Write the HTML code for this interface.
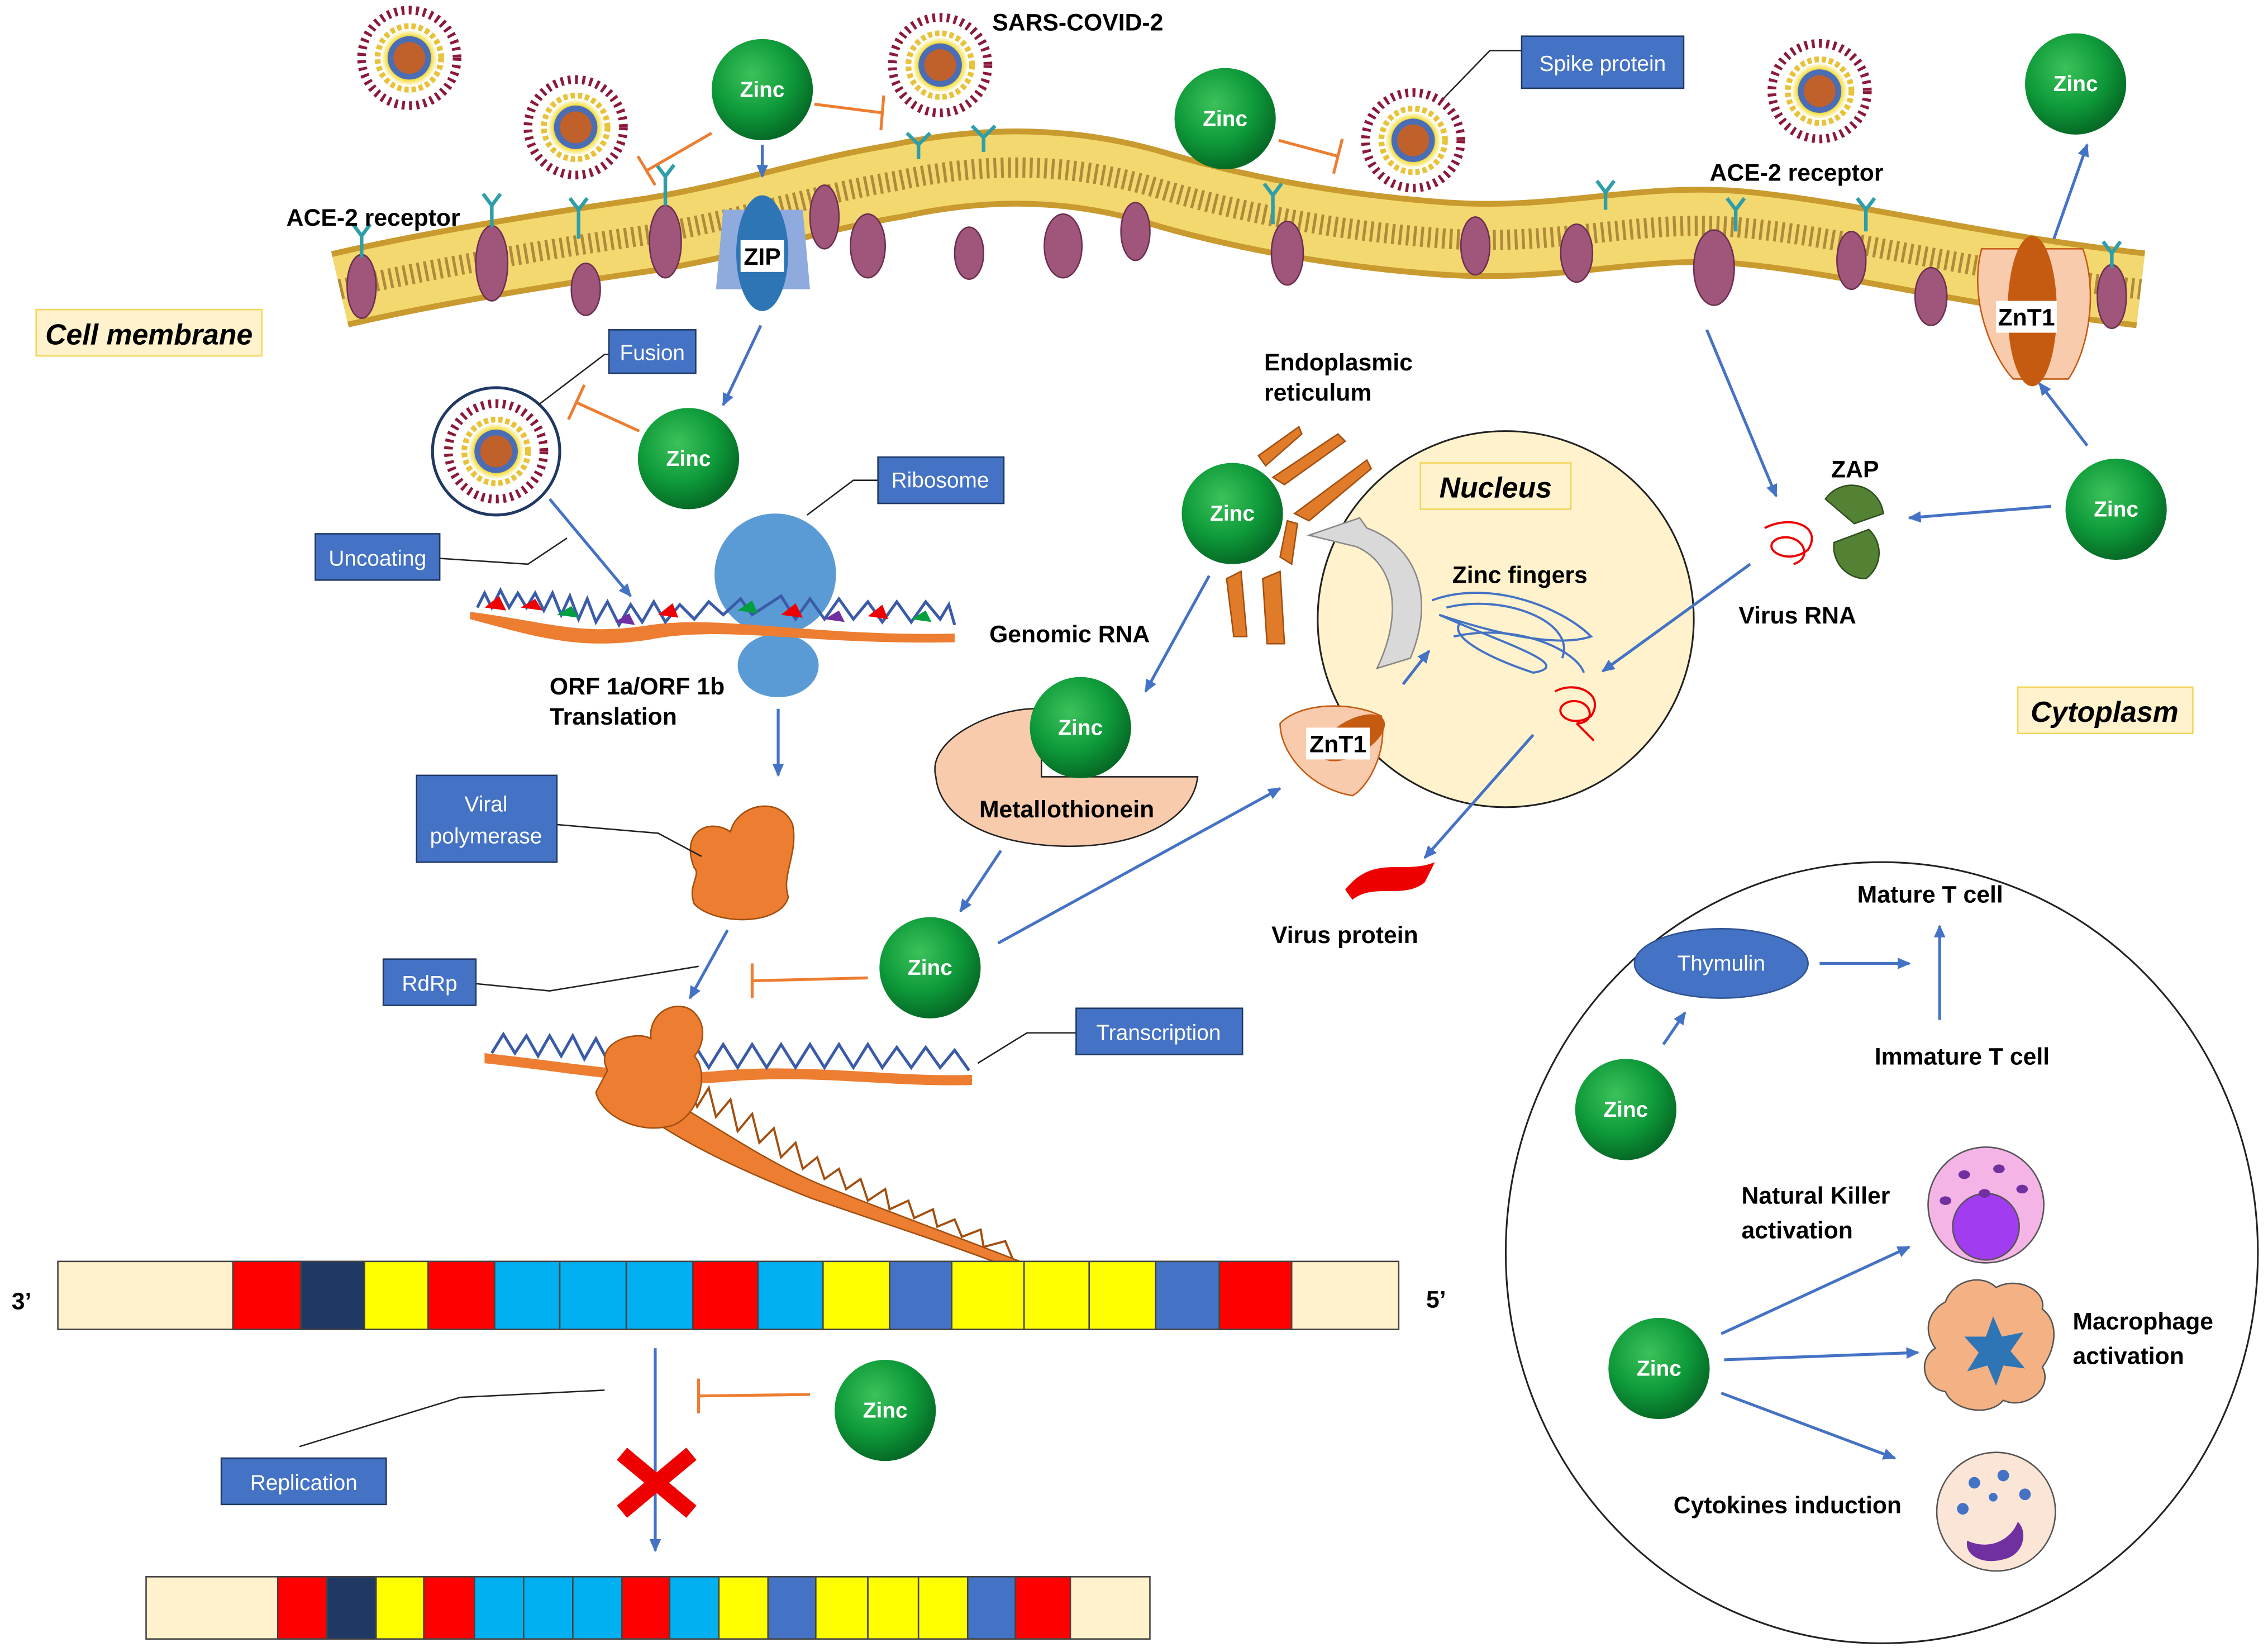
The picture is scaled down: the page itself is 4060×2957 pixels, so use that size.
<!DOCTYPE html>
<html><head><meta charset="utf-8">
<style>
html,body{margin:0;padding:0;background:#fff;}
svg{display:block;}
text{font-family:"Liberation Sans",sans-serif;font-weight:bold;}
.lb{fill:#000;font-size:16.5px;}
.zt{fill:#fff;font-size:15px;text-anchor:middle;}
.bt{fill:#fff;font-size:15px;text-anchor:middle;font-weight:normal;}
.yt{fill:#000;font-size:20px;text-anchor:middle;font-style:italic;}
.ar{stroke:#4472c4;stroke-width:2;fill:none;marker-end:url(#ah);}
.inh{stroke:#ed7d31;stroke-width:2;fill:none;}
.thin{stroke:#222;stroke-width:1;fill:none;}
</style></head><body>
<svg width="4060" height="2957" viewBox="0 0 1568 1142" xmlns="http://www.w3.org/2000/svg">
<defs>
<marker id="ah" markerWidth="10" markerHeight="10" refX="8" refY="5" orient="auto" markerUnits="userSpaceOnUse"><path d="M0,1 L9,5 L0,9 z" fill="#4472c4"/></marker>
<radialGradient id="zg" cx="40%" cy="35%" r="65%"><stop offset="0" stop-color="#3cc25a"/><stop offset="0.6" stop-color="#0e9a3a"/><stop offset="1" stop-color="#066b26"/></radialGradient>
<radialGradient id="vg" cx="50%" cy="50%" r="50%"><stop offset="0" stop-color="#b5552b"/><stop offset="0.45" stop-color="#4d6fb8"/><stop offset="0.6" stop-color="#f6e04a"/><stop offset="0.75" stop-color="#fff"/><stop offset="1" stop-color="#fff"/></radialGradient>
<g id="vir"><circle r="33" fill="#fff"/><circle r="33" fill="none" stroke="#8b1a3a" stroke-width="6" stroke-dasharray="2 3"/><circle r="26" fill="url(#vg)"/><circle r="22" fill="none" stroke="#e8c23a" stroke-width="4" stroke-dasharray="3 2"/><circle r="15" fill="#4a6db5"/><circle r="11" fill="#c0602a"/></g>
<g id="zn"><circle r="35" fill="url(#zg)"/><text class="zt" y="5">Zinc</text></g>
</defs>

<!-- membrane -->
<path d="M235,200 C300,185 380,172 450,162 C520,150 560,135 620,125 C680,112 740,112 800,130 C860,148 930,160 1000,165 C1080,170 1130,152 1200,157 C1280,164 1350,185 1480,200" stroke="#c99a2e" stroke-width="54" fill="none" stroke-linecap="butt"/>
<path d="M235,200 C300,185 380,172 450,162 C520,150 560,135 620,125 C680,112 740,112 800,130 C860,148 930,160 1000,165 C1080,170 1130,152 1200,157 C1280,164 1350,185 1480,200" stroke="#f3d870" stroke-width="46" fill="none" stroke-linecap="butt"/>
<path d="M235,200 C300,185 380,172 450,162 C520,150 560,135 620,125 C680,112 740,112 800,130 C860,148 930,160 1000,165 C1080,170 1130,152 1200,157 C1280,164 1350,185 1480,200" stroke="#b08a3a" stroke-width="14" fill="none" stroke-dasharray="2 3"/>
<g fill="#a0557a" stroke="#6b2f50" stroke-width="1">
<ellipse cx="250" cy="198" rx="10" ry="22"/><ellipse cx="340" cy="182" rx="11" ry="26"/><ellipse cx="460" cy="167" rx="11" ry="25"/><ellipse cx="570" cy="150" rx="10" ry="22"/><ellipse cx="600" cy="170" rx="12" ry="22"/><ellipse cx="735" cy="170" rx="13" ry="22"/><ellipse cx="785" cy="160" rx="10" ry="20"/><ellipse cx="890" cy="175" rx="11" ry="22"/><ellipse cx="1020" cy="170" rx="10" ry="20"/><ellipse cx="1090" cy="175" rx="11" ry="20"/><ellipse cx="1185" cy="185" rx="14" ry="26"/><ellipse cx="1280" cy="180" rx="10" ry="20"/><ellipse cx="1335" cy="205" rx="11" ry="20"/><ellipse cx="1460" cy="205" rx="10" ry="22"/><ellipse cx="405" cy="200" rx="10" ry="18"/><ellipse cx="670" cy="175" rx="10" ry="18"/>
</g>
<g stroke="#2f9ea8" stroke-width="2.5" fill="none">
<path d="M250,178 v-15 l-6,-8 M250,163 l6,-8"/><path d="M340,157 v-15 l-6,-8 M340,142 l6,-8"/><path d="M460,142 v-20 l-6,-8 M460,122 l6,-8"/><path d="M400,165 v-20 l-6,-8 M400,145 l6,-8"/><path d="M635,110 v-10 l-8,-8 M635,100 l8,-8"/><path d="M680,105 v-10 l-8,-8 M680,95 l8,-8"/><path d="M880,155 v-20 l-6,-8 M880,135 l6,-8"/><path d="M1110,145 v-12 l-6,-8 M1110,133 l6,-8"/><path d="M1200,160 v-15 l-6,-8 M1200,145 l6,-8"/><path d="M1290,160 v-15 l-6,-8 M1290,145 l6,-8"/><path d="M1460,185 v-10 l-6,-8 M1460,175 l6,-8"/>
</g>
<!-- ZIP -->
<path d="M500,145 L555,145 L560,200 L495,200 Z" fill="#8faadc"/>
<ellipse cx="527" cy="175" rx="18" ry="40" fill="#2e75b6"/>
<rect x="512" y="166" width="30" height="22" fill="#fff"/><text class="lb" x="527" y="183" text-anchor="middle" font-size="14">ZIP</text>
<!-- ZnT1 right -->
<path d="M1370,172 C1360,210 1380,250 1392,262 L1430,262 C1445,240 1450,200 1440,172 Z" fill="#f8cbad" stroke="#c55a11" stroke-width="1"/>
<ellipse cx="1405" cy="215" rx="17" ry="52" fill="#c55a11"/>
<rect x="1380" y="208" width="42" height="22" fill="#fff"/><text class="lb" x="1401" y="225" text-anchor="middle" font-size="14">ZnT1</text>

<!-- nucleus (under arrows) -->
<circle cx="1041" cy="428" r="130" fill="#fff2cc" stroke="#222" stroke-width="1.2"/>
<path d="M975,455 C990,420 985,380 945,365 L940,358 L905,370 L938,378 C965,390 970,425 952,462 Z" fill="#d9d9d9" stroke="#888"/>
<path d="M990,415 C1030,400 1080,420 1100,440 C1070,450 1010,430 995,425 C1040,445 1090,460 1060,465 C1030,455 1000,440 1010,430" stroke="#4472c4" stroke-width="1.5" fill="none"/>
<path d="M1000,420 C1040,410 1090,430 1080,455 M1005,440 C1050,430 1090,450 1095,465" stroke="#4472c4" stroke-width="1.5" fill="none"/>
<path d="M1075,478 C1090,470 1110,480 1100,495 C1085,505 1070,490 1085,485 C1100,482 1105,500 1090,500 M1090,500 L1102,512" stroke="#e00" stroke-width="1.5" fill="none"/>

<!-- viruses -->
<use href="#vir" x="283" y="40"/><use href="#vir" x="398" y="88"/><use href="#vir" x="650" y="45"/><use href="#vir" x="977" y="97"/><use href="#vir" x="1258" y="63"/>
<circle cx="343" cy="312" r="44" fill="#fff" stroke="#1f3864" stroke-width="2"/><use href="#vir" x="343" y="312"/>

<!-- zinc -->
<use href="#zn" x="527" y="62"/><use href="#zn" x="847" y="82"/><use href="#zn" x="1435" y="58"/><use href="#zn" x="476" y="317"/><use href="#zn" x="852" y="355"/><use href="#zn" x="1463" y="352"/><use href="#zn" x="643" y="669"/><use href="#zn" x="1124" y="767"/><use href="#zn" x="1147" y="946"/><use href="#zn" x="612" y="975"/>

<!-- inhibitions -->
<path class="inh" d="M492,92 L447,118 M441,108 L453,128"/>
<path class="inh" d="M563,72 L610,78 M611,66 L609,90"/>
<path class="inh" d="M884,97 L925,108 M928,96 L922,120"/>
<path class="inh" d="M442,298 L398,278 M404,266 L393,290"/>
<path class="inh" d="M600,676 L520,678 M520,666 L520,690"/>
<path class="inh" d="M560,964 L483,965 M483,953 L483,977"/>

<!-- blue arrows -->
<path class="ar" d="M527,100 L527,122"/>
<path class="ar" d="M526,225 L500,280"/>
<path class="ar" d="M1420,165 L1443,100"/>
<path class="ar" d="M1443,308 L1410,265"/>
<path class="ar" d="M1418,350 L1320,358"/>
<path class="ar" d="M1180,228 L1228,343"/>
<path class="ar" d="M1210,390 L1108,464"/>
<path class="ar" d="M380,345 L436,412"/>
<path class="ar" d="M538,490 L538,536"/>
<path class="ar" d="M503,643 L477,690"/>
<path class="ar" d="M836,398 L792,478"/>
<path class="ar" d="M692,588 L664,630"/>
<path class="ar" d="M690,652 L885,545"/>
<path class="ar" d="M1060,508 L985,593"/>
<path class="ar" d="M970,473 L988,450"/>
<path class="ar" d="M453,932 L453,1072"/>
<path class="ar" d="M1150,722 L1165,700"/>
<path class="ar" d="M1258,666 L1320,666"/>
<path class="ar" d="M1341,705 L1341,640"/>
<path class="ar" d="M1190,922 L1320,862"/>
<path class="ar" d="M1192,940 L1326,935"/>
<path class="ar" d="M1190,963 L1310,1008"/>

<!-- ER -->
<g fill="#e07b2a" stroke="#a24f10" stroke-width="1">
<path d="M870,315 L898,295 L900,300 L875,322Z"/><path d="M880,330 L925,300 L930,305 L888,335Z"/><path d="M895,355 L945,318 L948,324 L905,360Z"/><path d="M848,400 L858,395 L862,440 L853,440Z"/><path d="M873,400 L885,395 L888,445 L876,445Z"/><path d="M885,385 L890,360 L897,362 L893,390Z"/>
</g>
<path d="M1220,365 C1240,355 1260,365 1250,380 C1235,392 1215,378 1230,372 C1245,368 1255,385 1240,390" stroke="#e00" stroke-width="1.5" fill="none"/>
<!-- ZAP -->
<path d="M1262,345 A22,22 0 0 1 1302,355 L1282,362 Z" fill="#548235" stroke="#2f4f1e"/>
<path d="M1268,375 L1292,366 A22,22 0 0 1 1290,400 A22,22 0 0 1 1268,375Z" fill="#548235" stroke="#2f4f1e"/>
<!-- ZnT1 nucleus -->
<path d="M885,500 C900,485 935,485 955,495 C960,520 945,545 935,550 C905,545 885,520 885,500Z" fill="#f8cbad" stroke="#c55a11"/>
<ellipse cx="935" cy="510" rx="25" ry="12" fill="#c55a11" transform="rotate(-30 935 510)"/>
<rect x="903" y="503" width="44" height="22" fill="#fff"/><text class="lb" x="925" y="520" text-anchor="middle" font-size="14">ZnT1</text>
<!-- virus protein -->
<path d="M930,615 C950,590 970,605 992,596 L985,610 C970,622 950,610 935,622Z" fill="#e00"/>
<!-- metallothionein -->
<path d="M647,537 C640,510 690,488 720,490 L720,537 L828,537 C825,565 790,585 740,585 C690,585 650,568 647,537Z" fill="#f8cbad" stroke="#222"/>
<use href="#zn" x="747" y="503"/>

<!-- ribosome -->
<circle cx="536" cy="397" r="42" fill="#5b9bd5"/>
<ellipse cx="538" cy="460" rx="28" ry="22" fill="#5b9bd5"/>
<!-- RNA strand 1 -->
<path d="M325,423 C380,430 400,440 450,432 C500,425 560,440 660,438 L660,444 C560,446 500,432 450,442 C400,450 370,440 325,428Z" fill="#ed7d31"/>
<polyline points="330,420 335,410 340,420 346,408 352,420 358,410 364,420 370,410 376,422 382,410 388,425 394,412 400,428 406,414 412,430 420,416 428,432 436,418 444,430 452,416 460,430 470,418 480,428 490,416 500,425 512,414 520,425 540,412 550,428 560,414 570,428 580,414 590,428 600,416 610,430 620,416 630,430 640,416 650,428 656,418 660,432" stroke="#3a5ba8" stroke-width="2" fill="none"/>
<path d="M335,420 l10,-8 l5,10 Z M360,420 l10,-6 l5,8 Z M455,425 l10,-8 l4,10Z M540,425 l10,-8 l5,10Z M600,426 l10,-8 l4,10Z" fill="#e00"/>
<path d="M385,425 l10,-6 l5,8Z M510,422 l10,-7 l4,9Z M630,428 l10,-6 l4,8Z" fill="#00a040"/>
<path d="M425,430 l10,-6 l4,8Z M570,428 l10,-6 l4,8Z" fill="#7030a0"/>
<!-- polymerase -->
<path d="M480,600 C470,575 490,565 505,575 C510,555 540,550 548,570 C552,590 540,605 545,620 C540,640 495,640 480,625 C475,612 485,605 480,600Z" fill="#ed7d31" stroke="#a24f10"/>
<!-- RNA strand 2 -->
<path d="M335,728 C400,735 450,745 500,740 C560,735 620,745 672,743 L672,750 C620,752 560,742 500,748 C450,752 400,742 335,735Z" fill="#ed7d31"/>
<polyline points="340,728 348,715 356,728 364,716 372,730 380,716 388,730 396,716 404,732 412,718 420,733 430,720 440,735 470,735 480,722 490,738 500,722 510,738 520,722 530,738 540,722 550,738 560,722 570,738 580,722 590,738 600,722 610,738 620,724 630,738 640,724 650,738 660,726 670,740" stroke="#3a5ba8" stroke-width="2" fill="none"/>
<path d="M425,740 C470,760 520,800 570,820 C620,840 670,858 705,872 L695,875 C650,858 600,842 560,828 C510,808 470,790 430,760Z" fill="#ed7d31" stroke="#a24f10"/>
<polyline points="470,760 475,745 482,765 490,752 495,772 505,760 510,782 520,770 525,790 535,780 540,800 550,790 555,808 565,800 570,815 580,808 585,822 595,815 600,830 612,822 615,836 628,830 632,842 645,836 648,848 660,843 665,855 678,850 680,862 695,858 700,870" stroke="#a24f10" stroke-width="1.5" fill="none"/>
<path d="M420,740 C410,720 440,712 450,718 C448,698 470,690 480,700 C490,710 485,725 480,730 C490,740 485,770 465,778 C440,785 415,770 412,755Z" fill="#ed7d31" stroke="#a24f10"/>

<!-- bars -->
<g stroke="#444" stroke-width="1">
<rect x="40" y="872" width="927" height="47" fill="#fff2cc"/>
<rect x="161" y="872" width="47" height="47" fill="#f00"/><rect x="208" y="872" width="44" height="47" fill="#1f3864"/><rect x="252" y="872" width="44" height="47" fill="#ff0"/><rect x="296" y="872" width="46" height="47" fill="#f00"/><rect x="342" y="872" width="45" height="47" fill="#00b0f0"/><rect x="387" y="872" width="46" height="47" fill="#00b0f0"/><rect x="433" y="872" width="46" height="47" fill="#00b0f0"/><rect x="479" y="872" width="45" height="47" fill="#f00"/><rect x="524" y="872" width="45" height="47" fill="#00b0f0"/><rect x="569" y="872" width="46" height="47" fill="#ff0"/><rect x="615" y="872" width="43" height="47" fill="#4472c4"/><rect x="658" y="872" width="50" height="47" fill="#ff0"/><rect x="708" y="872" width="45" height="47" fill="#ff0"/><rect x="753" y="872" width="46" height="47" fill="#ff0"/><rect x="799" y="872" width="44" height="47" fill="#4472c4"/><rect x="843" y="872" width="50" height="47" fill="#f00"/>
<rect x="101" y="1090" width="694" height="43" fill="#fff2cc"/>
<rect x="192" y="1090" width="34" height="43" fill="#f00"/><rect x="226" y="1090" width="34" height="43" fill="#1f3864"/><rect x="260" y="1090" width="33" height="43" fill="#ff0"/><rect x="293" y="1090" width="35" height="43" fill="#f00"/><rect x="328" y="1090" width="34" height="43" fill="#00b0f0"/><rect x="362" y="1090" width="34" height="43" fill="#00b0f0"/><rect x="396" y="1090" width="34" height="43" fill="#00b0f0"/><rect x="430" y="1090" width="33" height="43" fill="#f00"/><rect x="463" y="1090" width="34" height="43" fill="#00b0f0"/><rect x="497" y="1090" width="34" height="43" fill="#ff0"/><rect x="531" y="1090" width="33" height="43" fill="#4472c4"/><rect x="564" y="1090" width="36" height="43" fill="#ff0"/><rect x="600" y="1090" width="35" height="43" fill="#ff0"/><rect x="635" y="1090" width="34" height="43" fill="#ff0"/><rect x="669" y="1090" width="33" height="43" fill="#4472c4"/><rect x="702" y="1090" width="38" height="43" fill="#f00"/>
</g>
<!-- red X -->
<path d="M430,1005 L478,1045 M478,1005 L430,1045" stroke="#e00" stroke-width="11"/>

<!-- leader lines -->
<path class="thin" d="M998,68 L1030,35 L1052,35"/>
<path class="thin" d="M372,280 L418,245 L421,245"/>
<path class="thin" d="M558,356 L590,332 L607,332"/>
<path class="thin" d="M304,386 L365,390 L392,372"/>
<path class="thin" d="M385,570 L455,576 L485,592"/>
<path class="thin" d="M329,680 L380,685 L483,668"/>
<path class="thin" d="M676,735 L710,714 L744,714"/>
<path class="thin" d="M207,1000 L318,966 L418,961"/>

<!-- big circle -->
<ellipse cx="1301" cy="866" rx="260" ry="270" fill="none" stroke="#222" stroke-width="1.2"/>
<ellipse cx="1190" cy="666" rx="60" ry="24" fill="#4472c4" stroke="#2f528f"/>
<text class="bt" x="1190" y="671">Thymulin</text>
<circle cx="1373" cy="833" r="40" fill="#f4b4e6" stroke="#555"/><circle cx="1373" cy="848" r="23" fill="#a23cf0" stroke="#555"/>
<g fill="#7030a0"><ellipse cx="1358" cy="812" rx="4" ry="3"/><ellipse cx="1382" cy="808" rx="4" ry="3"/><ellipse cx="1398" cy="822" rx="4" ry="3"/><ellipse cx="1345" cy="830" rx="4" ry="3"/><ellipse cx="1372" cy="825" rx="4" ry="3"/></g>
<path d="M1345,900 C1350,885 1370,880 1380,890 C1395,882 1415,892 1412,905 C1425,915 1420,935 1412,945 C1420,960 1400,975 1385,968 C1375,980 1350,975 1345,962 C1330,960 1325,940 1338,932 C1328,918 1335,905 1345,900Z" fill="#f4b183" stroke="#555"/>
<path d="M1378,910 l6,14 l15,-3 l-9,13 l10,12 l-15,-2 l-5,14 l-6,-14 l-14,4 l8,-13 l-10,-11 l15,0Z" fill="#2e75b6"/>
<circle cx="1380" cy="1045" r="41" fill="#fbe5d6" stroke="#555"/>
<g fill="#4472c4"><circle cx="1365" cy="1025" r="4"/><circle cx="1385" cy="1020" r="4"/><circle cx="1400" cy="1033" r="4"/><circle cx="1357" cy="1043" r="4"/><circle cx="1378" cy="1035" r="3"/></g>
<path d="M1360,1065 C1375,1072 1390,1065 1395,1052 C1402,1058 1400,1075 1385,1078 C1370,1082 1358,1075 1360,1065Z" fill="#7030a0"/>

<!-- blue label boxes -->
<g fill="#4472c4" stroke="#1f3864" stroke-width="1">
<rect x="1052" y="25" width="112" height="36"/><rect x="421" y="228" width="60" height="30"/><rect x="607" y="316" width="87" height="32"/><rect x="218" y="369" width="86" height="32"/><rect x="288" y="536" width="97" height="60"/><rect x="265" y="663" width="64" height="32"/><rect x="744" y="697" width="115" height="32"/><rect x="153" y="1008" width="114" height="32"/>
</g>
<text class="bt" x="1108" y="49">Spike protein</text>
<text class="bt" x="451" y="249">Fusion</text>
<text class="bt" x="650" y="337">Ribosome</text>
<text class="bt" x="261" y="391">Uncoating</text>
<text class="bt" x="336" y="561">Viral</text><text class="bt" x="336" y="583">polymerase</text>
<text class="bt" x="297" y="685">RdRp</text>
<text class="bt" x="801" y="719">Transcription</text>
<text class="bt" x="210" y="1030">Replication</text>

<g fill="#fff2cc" stroke="#f4d55a" stroke-width="1">
<rect x="25" y="214" width="156" height="32"/><rect x="982" y="320" width="104" height="32"/><rect x="1395" y="475" width="121" height="32"/>
</g>
<text class="yt" x="103" y="238">Cell membrane</text>
<text class="yt" x="1034" y="344">Nucleus</text>
<text class="yt" x="1455" y="499">Cytoplasm</text>

<text class="lb" x="686" y="21">SARS-COVID-2</text>
<text class="lb" x="198" y="156">ACE-2 receptor</text>
<text class="lb" x="1182" y="125">ACE-2 receptor</text>
<text class="lb" x="874" y="256" font-size="15">Endoplasmic</text>
<text class="lb" x="874" y="277" font-size="15">reticulum</text>
<text class="lb" x="1266" y="330" font-size="15">ZAP</text>
<text class="lb" x="1202" y="431">Virus RNA</text>
<text class="lb" x="1004" y="403">Zinc fingers</text>
<text class="lb" x="684" y="444" font-size="15">Genomic RNA</text>
<text class="lb" x="380" y="480" font-size="15">ORF 1a/ORF 1b</text>
<text class="lb" x="380" y="501" font-size="15">Translation</text>
<text class="lb" x="677" y="565" font-size="15">Metallothionein</text>
<text class="lb" x="879" y="652">Virus protein</text>
<text class="lb" x="1284" y="624">Mature T cell</text>
<text class="lb" x="1296" y="736">Immature T cell</text>
<text class="lb" x="1204" y="832">Natural Killer</text>
<text class="lb" x="1204" y="856">activation</text>
<text class="lb" x="1433" y="919">Macrophage</text>
<text class="lb" x="1433" y="943">activation</text>
<text class="lb" x="1157" y="1046">Cytokines induction</text>
<text class="lb" x="8" y="905">3’</text>
<text class="lb" x="986" y="904">5’</text>
</svg>
</body></html>
